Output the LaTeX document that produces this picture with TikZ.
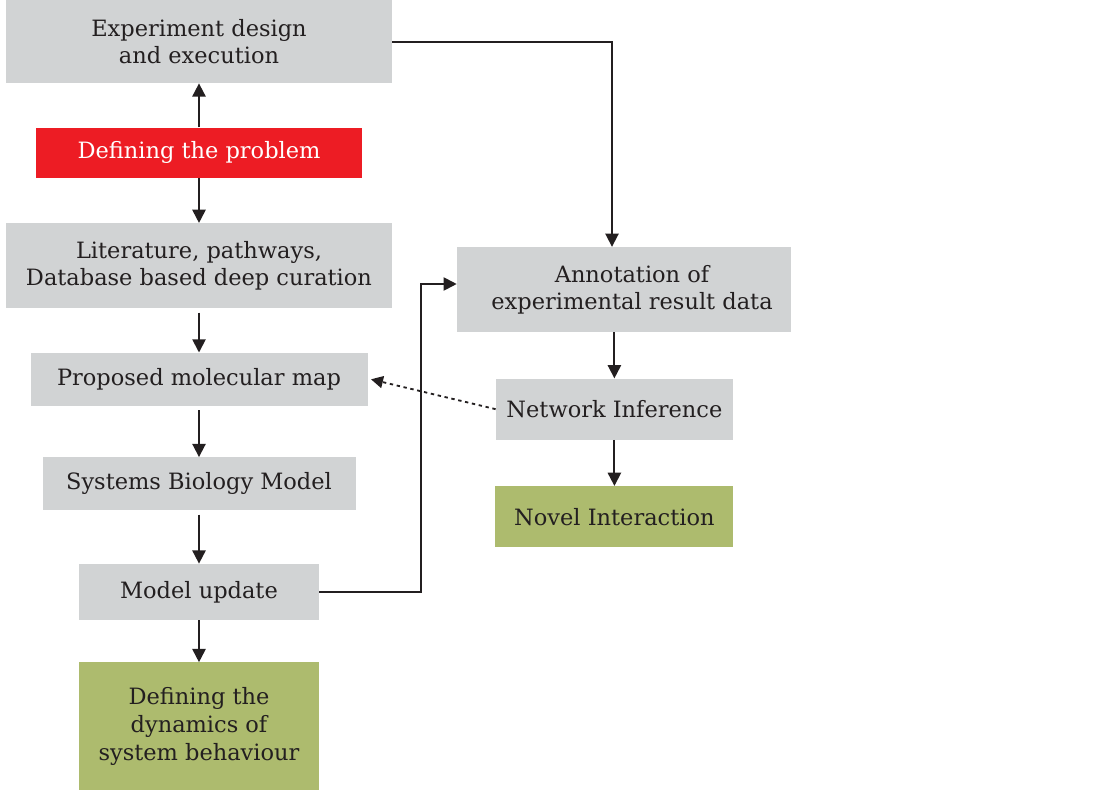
\documentclass[tikz,border=0pt]{standalone}
\usepackage{fontspec}
\setmainfont{DejaVu Serif}
\usepackage{tikz}
\usetikzlibrary{arrows.meta,positioning,calc}

\definecolor{boxgrey}{RGB}{209,211,212}
\definecolor{probred}{RGB}{237,28,36}
\definecolor{olive}{RGB}{173,187,110}
\definecolor{inkgrey}{RGB}{35,31,32}

\begin{document}
\begin{tikzpicture}[
  node distance=1.1cm,
  every node/.style={font=\fontsize{16}{19.6}\selectfont, text=inkgrey},
  greybox/.style={rectangle, fill=boxgrey, inner sep=0pt, align=center},
  redbox/.style={rectangle, fill=probred, inner sep=0pt, align=center, text=white},
  greenbox/.style={rectangle, fill=olive, inner sep=0pt, align=center},
  arrow/.style={-{Triangle[length=3.3mm, width=3.3mm]}, line width=1.3pt, draw=inkgrey},
  hint/.style={-{Triangle[length=3mm, width=3mm]}, line width=1.3pt, draw=inkgrey, dash pattern=on 2.4pt off 2.6pt}
]
\useasboundingbox (0,0) rectangle (27.95,-20.3);
\node[greybox, minimum width=9.65cm, minimum height=2.075cm] (exp) at (4.975,-1.04) {Experiment design\\and execution};
\node[redbox, minimum width=8.15cm, minimum height=1.25cm, below=1.1cm of exp] (prob) {Defining the problem};
\node[greybox, minimum width=9.65cm, minimum height=2.125cm, below=1.125cm of prob] (lit) {Literature, pathways,\\Database based deep curation};
\node[greybox, minimum width=8.425cm, minimum height=1.325cm, below=1.1cm of lit] (map) {Proposed molecular map};
\node[greybox, minimum width=7.825cm, minimum height=1.325cm, below=1.275cm of map] (sbm) {Systems Biology Model};
\node[greybox, minimum width=6cm, minimum height=1.4cm, below=1.325cm of sbm] (upd) {Model update};
\node[greenbox, minimum width=6cm, minimum height=3.2cm, below=1.05cm of upd] (dyn) {Defining the\\dynamics of\\system behaviour};
\node[greybox, minimum width=8.35cm, minimum height=2.125cm] (annot) at (15.6,-7.24) {\hspace*{4mm}Annotation of\\\hspace*{4mm}experimental result data};
\node[greybox, minimum width=5.925cm, minimum height=1.525cm, below=1.15cm of annot.south, anchor=north, xshift=-0.24cm] (net) {Network Inference};
\node[greenbox, minimum width=5.95cm, minimum height=1.525cm, below=1.15cm of net] (novel) {Novel Interaction};
\draw[arrow] (prob) -- (exp);
\draw[arrow] (prob) -- (lit);
\draw[arrow] ([yshift=-1mm]lit.south) -- (map);
\draw[arrow] ([yshift=-1mm]map.south) -- (sbm);
\draw[arrow] ([yshift=-1mm]sbm.south) -- (upd);
\draw[arrow] (upd) -- (dyn);
\draw[arrow] (exp.east) -| ([xshift=-3mm]annot.north);
\draw[arrow] (upd.east) -- ++(2.55,0) |- ([yshift=1.4mm]annot.west);
\draw[arrow] (net.north |- annot.south) -- (net);
\draw[arrow] (net) -- (novel);
\draw[hint] (net.west) -- ([xshift=0.8mm]map.east);
\end{tikzpicture}
\end{document}
